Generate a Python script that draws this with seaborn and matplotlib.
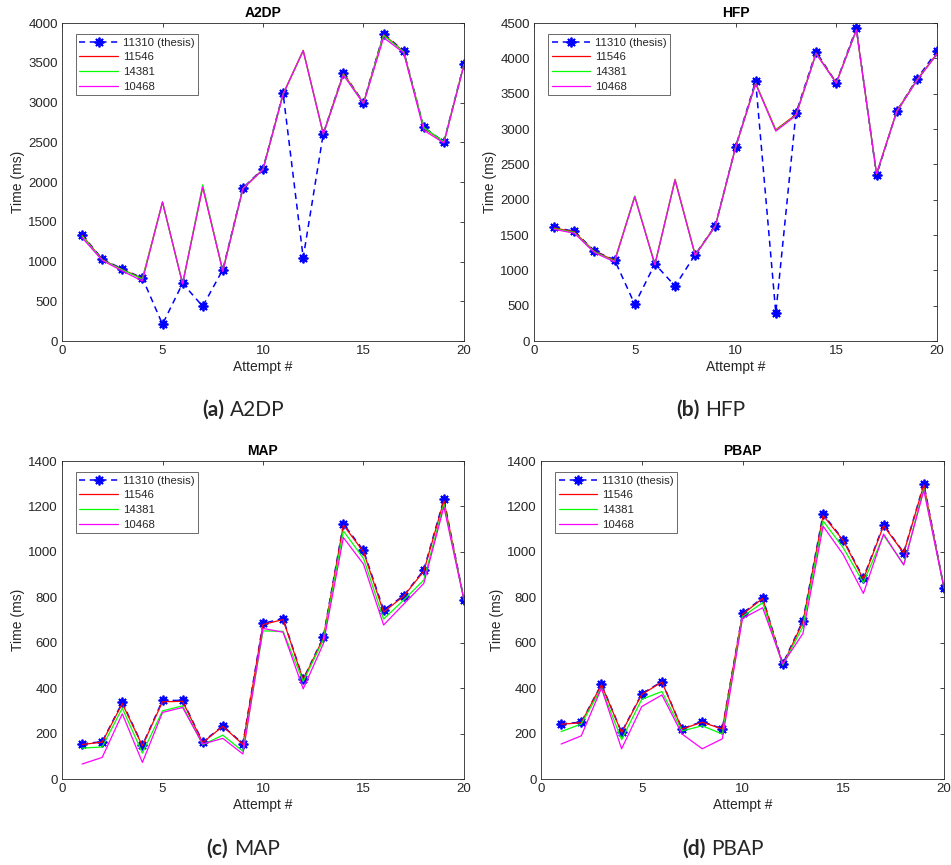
import numpy as np
import pandas as pd
import matplotlib
matplotlib.use("Agg")
import matplotlib.pyplot as plt
import seaborn as sns

# attempt numbers (x axis)
attempts = list(range(1, 21))
series_names = ["11310 (thesis)", "11546", "14381", "10468"]

# A2DP connection times (ms)
a2dp_11310 = [1337, 1031, 906, 792, 210, 725, 436, 897, 1925, 2168,
              3115, 1048, 2608, 3371, 2998, 3866, 3648, 2688, 2507, 3488]
a2dp_11546 = [1330, 1025, 900, 785, 1748, 722, 1937, 885, 1920, 2160,
              3110, 3656, 2608, 3365, 2995, 3855, 3640, 2680, 2500, 3480]
a2dp_14381 = [1320, 1020, 895, 780, 1745, 720, 1965, 880, 1918, 2158,
              3105, 3650, 2605, 3355, 2990, 3845, 3635, 2685, 2505, 3478]
a2dp_10468 = [1300, 1015, 880, 755, 1748, 718, 1937, 875, 1915, 2155,
              3100, 3652, 2600, 3345, 2985, 3815, 3625, 2650, 2490, 3470]

# HFP connection times (ms)
hfp_11310 = [1608, 1552, 1274, 1146, 519, 1090, 778, 1222, 1632, 2745,
             3679, 396, 3222, 4094, 3656, 4429, 2344, 3250, 3708, 4104]
hfp_11546 = [1600, 1545, 1268, 1140, 2047, 1085, 2288, 1220, 1630, 2740,
             3650, 2990, 3205, 4075, 3655, 4405, 2360, 3255, 3695, 4070]
hfp_14381 = [1590, 1535, 1260, 1130, 2050, 1080, 2280, 1215, 1628, 2738,
             3645, 2980, 3195, 4070, 3650, 4400, 2365, 3245, 3690, 4060]
hfp_10468 = [1580, 1525, 1250, 1120, 2040, 1078, 2275, 1210, 1625, 2735,
             3640, 2970, 3190, 4065, 3648, 4400, 2370, 3240, 3685, 4058]

# MAP connection times (ms)
map_11310 = [155, 164, 337, 148, 346, 346, 163, 234, 155, 685,
             706, 439, 624, 1123, 1006, 744, 807, 920, 1232, 788]
map_11546 = [152, 162, 332, 146, 340, 342, 160, 232, 152, 680,
             702, 436, 620, 1118, 1000, 735, 805, 915, 1225, 788]
map_14381 = [136, 141, 312, 114, 300, 322, 151, 193, 122, 652,
             650, 429, 612, 1092, 971, 704, 788, 876, 1210, 788]
map_10468 = [66, 95, 287, 73, 293, 315, 154, 179, 110, 663,
             646, 397, 595, 1063, 946, 678, 770, 861, 1198, 788]

# PBAP connection times (ms)
pbap_11310 = [243, 250, 417, 206, 375, 429, 221, 253, 221, 729,
              798, 507, 697, 1166, 1053, 885, 1120, 996, 1299, 841]
pbap_11546 = [241, 248, 415, 204, 372, 427, 220, 250, 220, 725,
              795, 502, 692, 1160, 1050, 880, 1115, 995, 1295, 841]
pbap_14381 = [209, 242, 400, 173, 351, 385, 212, 234, 198, 715,
              776, 502, 671, 1136, 1018, 864, 1073, 945, 1278, 841]
pbap_10468 = [154, 190, 400, 133, 319, 370, 198, 133, 177, 707,
              754, 507, 641, 1113, 988, 817, 1078, 942, 1271, 841]

panels = [
    ("A2DP", "(a)", [a2dp_11310, a2dp_11546, a2dp_14381, a2dp_10468], 4000, 500),
    ("HFP", "(b)", [hfp_11310, hfp_11546, hfp_14381, hfp_10468], 4500, 500),
    ("MAP", "(c)", [map_11310, map_11546, map_14381, map_10468], 1400, 200),
    ("PBAP", "(d)", [pbap_11310, pbap_11546, pbap_14381, pbap_10468], 1400, 200),
]

sns.set_style("white")
plt.rcParams["font.family"] = ["Liberation Sans", "DejaVu Sans"]
plt.rcParams["axes.edgecolor"] = "#262626"
plt.rcParams["axes.linewidth"] = 0.6

colors = ["#0000ff", "#ff0000", "#00ff00", "#ff00ff"]

fig = plt.figure(figsize=(9.51, 8.65), dpi=100)
W, H = 951, 865
# axes boxes in pixels: left, top, right, bottom
boxes = [(62, 23, 464, 341), (534, 23, 937, 341),
         (62, 461, 464, 779), (541, 461, 944, 779)]
caption_pos = [(227, 410), (702, 410), (231, 849), (708, 849)]

for (title, tag, data, ymax, ystep), (l, t, r, b), (cx, cy) in zip(panels, boxes, caption_pos):
    ax = fig.add_axes([l / W, 1 - b / H, (r - l) / W, (b - t) / H])
    for i, (name, vals) in enumerate(zip(series_names, data)):
        df = pd.DataFrame({"Attempt": attempts, "Time": vals})
        if i == 0:
            # MATLAB-like asterisk marker
            sns.lineplot(x="Attempt", y="Time", data=df, ax=ax, color=colors[i],
                         linestyle=(0, (4, 3)), linewidth=1.1, marker=(8, 2, 0),
                         markersize=7, markeredgewidth=1.3, markeredgecolor=colors[i],
                         label=name, errorbar=None)
        else:
            sns.lineplot(x="Attempt", y="Time", data=df, ax=ax, color=colors[i],
                         linewidth=0.9, label=name, errorbar=None)

    ax.set_xlim(0, 20)
    ax.set_ylim(0, ymax)
    ax.set_xticks(np.arange(0, 21, 5))
    ax.set_yticks(np.arange(0, ymax + 1, ystep))
    ax.tick_params(direction="in", length=3, width=0.6, top=True, right=True,
                   labelsize=9.5, colors="#262626", pad=3)
    ax.set_title(title, fontsize=10, fontweight="bold", color="black", pad=4)
    ax.set_xlabel("Attempt #", fontsize=10, color="#262626", labelpad=2)
    ax.set_ylabel("Time (ms)", fontsize=10, color="#262626", labelpad=2)
    for sp in ax.spines.values():
        sp.set_visible(True)
        sp.set_color("#262626")

    leg = ax.legend(loc="upper left", bbox_to_anchor=(0.035, 0.965), fontsize=8.2,
                    frameon=True, fancybox=False, edgecolor="#262626",
                    handlelength=3.4, handletextpad=0.4, labelspacing=0.42,
                    borderpad=0.3, borderaxespad=0)
    leg.get_frame().set_linewidth(0.6)

    # caption below the panel: bold tag + regular name
    fig.text(cx / W - 0.003, 1 - cy / H, tag, ha="right", va="center",
             fontsize=15, fontweight="bold", family=["Lato", "DejaVu Sans"])
    fig.text(cx / W + 0.003, 1 - cy / H, title, ha="left", va="center",
             fontsize=15, family=["Lato", "DejaVu Sans"])

fig.savefig("out.png", dpi=100)
